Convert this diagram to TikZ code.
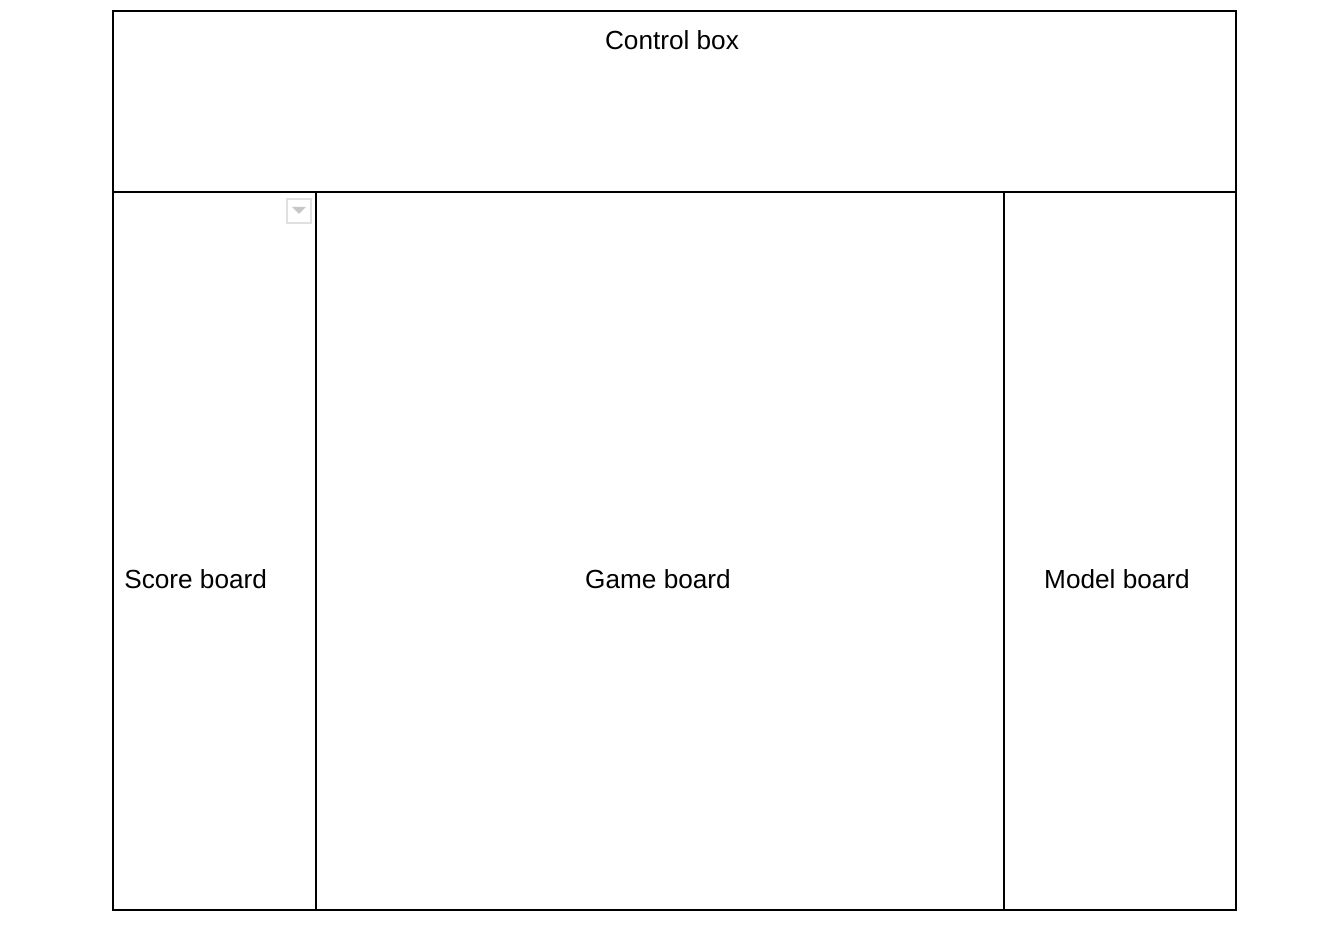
\documentclass[tikz,border=0pt]{standalone}
\usepackage{fontspec}
\setmainfont{Liberation Sans}
\begin{document}
\begin{tikzpicture}[x=0.02cm,y=-0.02cm,
  frame/.style={draw=black,line width=1.1pt},
  lbl/.style={font=\fontsize{14.9}{17}\selectfont,inner sep=0pt,text=black},
  icon/.style={draw=black!12,line width=0.8pt,fill=white}]
\useasboundingbox[fill=white] (0,0) rectangle (1326,932);
% regions
\draw[frame] (113,11) rectangle (1236,910);
\draw[frame] (113,192) -- (1236,192);
\draw[frame] (316,192) -- (316,910);
\draw[frame] (1004,192) -- (1004,910);
% dropdown icon
\draw[icon] (287,199) rectangle (311,223);
\fill[black!22] (292,207) -- (306,207) -- (299,214) -- cycle;
% labels
\node[lbl] (control) at (672,40) {Control box};
\node[lbl,anchor=west] (score) at (124,579) {Score board};
\node[lbl] (game) at (658,579) {Game board};
\node[lbl] (model) at (1117,579) {Model board};
\end{tikzpicture}
\end{document}
